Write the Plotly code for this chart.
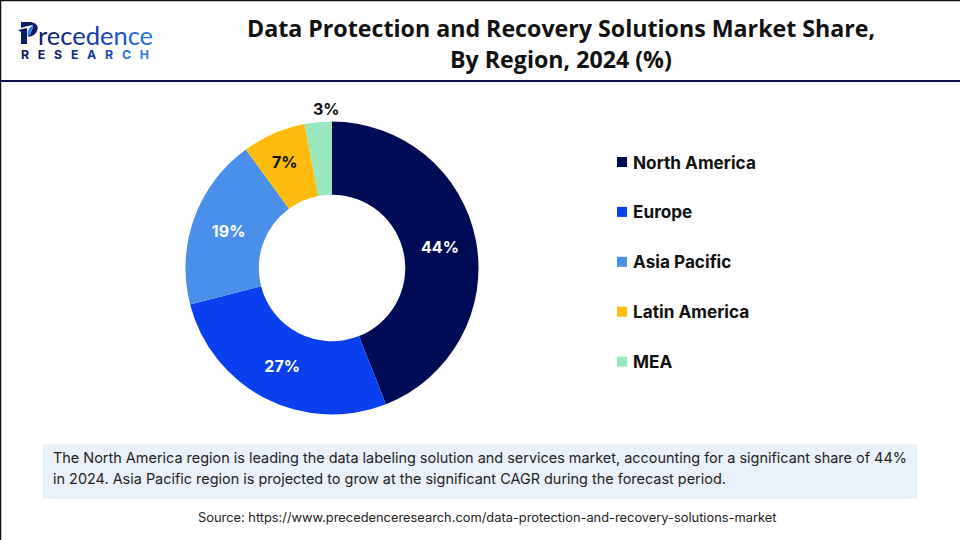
import plotly.graph_objects as go

W, H = 960, 540

regions = ["North America", "Europe", "Asia Pacific", "Latin America", "MEA"]
shares = [44, 27, 19, 7, 3]
colors = ["#000B55", "#0A3FEF", "#4A8FEA", "#FFBC0F", "#97E6BE"]
label_colors = ["white", "white", "white", "#111111", "#111111"]
label_positions = ["inside", "inside", "inside", "none", "none"]

title_lines = ["Data Protection and Recovery Solutions Market Share,", "By Region, 2024 (%)"]
note_lines = [
    "The North America region is leading the data labeling solution and services market, accounting for a significant share of 44%",
    "in 2024. Asia Pacific region is projected to grow at the significant CAGR during the forecast period.",
]
source = "Source: https://www.precedenceresearch.com/data-protection-and-recovery-solutions-market"
logo_letters = list("recedence")
logo_colors = ["#0B1A66", "#0D2277", "#102C88", "#123597", "#143FA8", "#1648B8", "#1A55C8", "#1E62D6", "#2470E0"]
research_letters = list("RESEARCH")
research_colors = ["#0B1A66", "#0B1A66", "#0D2277", "#102C88", "#123597", "#1648B8", "#2470E0", "#2F7FE6"]


def px(x):
    return x / W


def py(y):
    return 1 - y / H


fig = go.Figure()

fig.add_trace(go.Pie(
    labels=regions,
    values=shares,
    hole=0.5,
    sort=False,
    direction="clockwise",
    rotation=0,
    marker=dict(colors=colors, line=dict(width=0)),
    texttemplate="%{value}%",
    textposition=label_positions,
    insidetextorientation="horizontal",
    textfont=dict(family="Inter", size=16, color=label_colors, weight=700),
    showlegend=False,
    domain=dict(x=[px(185.5), px(478.5)], y=[py(414.5), py(121.5)]),
))

shapes = [
    # outer frame, only top and left show in the picture
    dict(type="line", xref="paper", yref="paper", x0=0, x1=1, y0=py(0.5), y1=py(0.5), line=dict(color="#111111", width=1.5)),
    dict(type="line", xref="paper", yref="paper", x0=px(0.5), x1=px(0.5), y0=0, y1=1, line=dict(color="#111111", width=1.5)),
    # header rule
    dict(type="line", xref="paper", yref="paper", x0=0, x1=1, y0=py(81), y1=py(81), line=dict(color="#0A0F4A", width=2)),
    # note box
    dict(type="rect", xref="paper", yref="paper", x0=px(43), x1=px(917), y0=py(499), y1=py(444),
         fillcolor="#EAF1FA", line=dict(width=0), layer="below"),
    # logo P with leaf cut in
    dict(type="path", xref="paper", yref="paper",
         path=f"M {px(18)},{py(30)} L {px(27)},{py(28)} L {px(27)},{py(44)} L {px(21)},{py(44)} L {px(21)},{py(32)} Z",
         fillcolor="#0B1A66", line=dict(width=0)),
    dict(type="path", xref="paper", yref="paper",
         path=f"M {px(21)},{py(22)} L {px(31)},{py(22)} Q {px(40)},{py(24)} {px(37)},{py(31)} "
              f"Q {px(35)},{py(36)} {px(28)},{py(37)} Q {px(33)},{py(30)} {px(33)},{py(25)} Q {px(26)},{py(26)} {px(21)},{py(28)} Z",
         fillcolor="#0B1A66", line=dict(width=0)),
    dict(type="path", xref="paper", yref="paper",
         path=f"M {px(33)},{py(25)} Q {px(33)},{py(31)} {px(28)},{py(37)} Q {px(26)},{py(30)} {px(33)},{py(25)} Z",
         fillcolor="#2F7FE6", line=dict(width=0)),
]

annotations = []


def add_text(x, y, text, size, family="Noto Sans", color="#111111", anchor="center", weight=400):
    annotations.append(dict(
        xref="paper", yref="paper", x=px(x), y=py(y), text=text, showarrow=False,
        xanchor=anchor, yanchor="middle", align="left",
        font=dict(family=family, size=size, color=color, weight=weight),
    ))


add_text(561, 27.5, title_lines[0], 23.2, family="Open Sans", weight=700)
add_text(561, 59.5, title_lines[1], 23.2, family="Open Sans", weight=700)

add_text(51, 458, note_lines[0], 14.45, family="Inter", color="#222222", anchor="left")
add_text(51, 479, note_lines[1], 14.45, family="Inter", color="#222222", anchor="left")
add_text(487, 517, source, 12.85, family="Inter", color="#222222")

# these two sit off plotly's own label spot
add_text(285, 162, f"{shares[3]}%", 16, family="Inter", color=label_colors[3], weight=700)
add_text(326, 109, f"{shares[4]}%", 16, family="Inter", color=label_colors[4], weight=700)

# legend is spaced wider than plotly's own legend allows
for i, (region, color) in enumerate(zip(regions, colors)):
    y = 162 + i * 49.9
    shapes.append(dict(type="rect", xref="paper", yref="paper", x0=px(617), x1=px(627),
                       y0=py(y + 5), y1=py(y - 5), fillcolor=color, line=dict(width=0)))
    add_text(631, y, region, 17.2, family="Inter", anchor="left", weight=700)

# logo wordmark
word = "".join(f'<span style="color:{c}">{ch}</span>' for ch, c in zip(logo_letters, logo_colors))
add_text(36, 34.5, word, 25.5, family="Lato", anchor="left")
research = "&nbsp;&nbsp;&nbsp;".join(f'<span style="color:{c}">{ch}</span>' for ch, c in zip(research_letters, research_colors))
add_text(19, 54.5, research, 12.3, family="Inter", anchor="left", weight=700)

fig.update_layout(
    width=W, height=H,
    margin=dict(l=0, r=0, t=0, b=0),
    paper_bgcolor="white",
    shapes=shapes,
    annotations=annotations,
)

# the page's default body margin would push everything 8px off
fig.write_html("out.html", post_script="document.body.style.margin='0';", config=dict(displayModeBar=False))
